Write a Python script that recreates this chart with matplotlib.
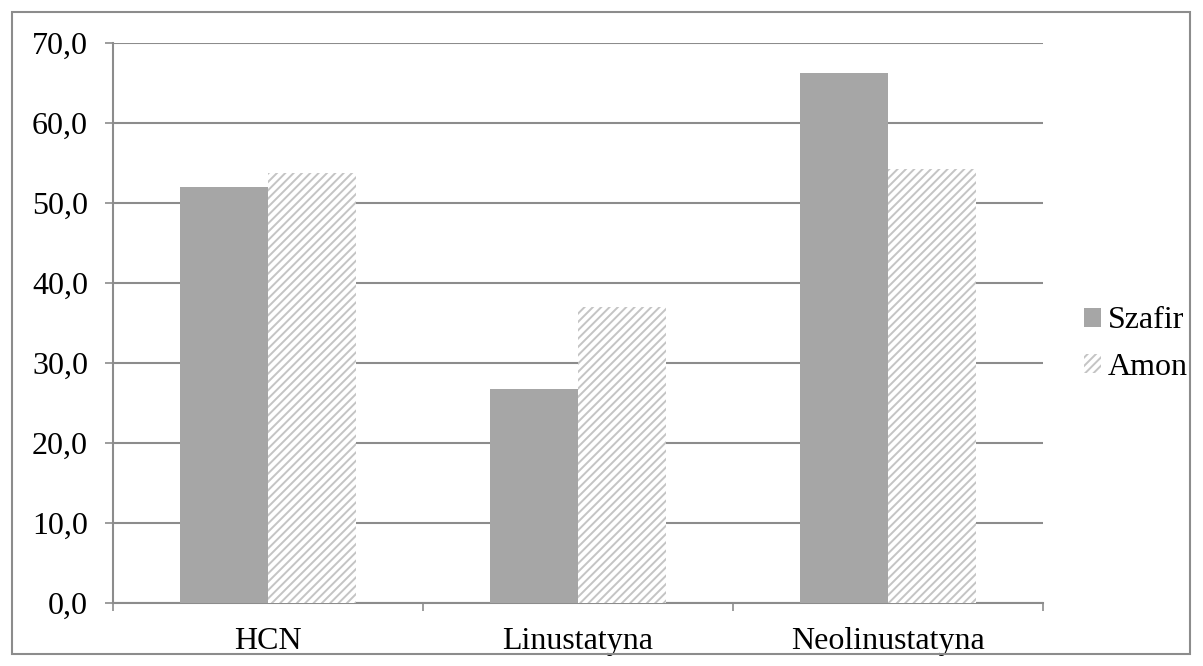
import numpy as np
import matplotlib.pyplot as plt
from matplotlib.patches import Rectangle

categories = ['HCN', 'Linustatyna', 'Neolinustatyna']
szafir = [52.0, 26.8, 66.3]
amon = [53.8, 37.0, 54.3]
y_ticks = [0, 10, 20, 30, 40, 50, 60, 70]

plt.rcParams['font.family'] = 'Liberation Serif'
plt.rcParams['hatch.linewidth'] = 1.4

grid_col = '#8c8c8c'
fs = 23

fig = plt.figure(figsize=(12.03, 6.66), dpi=100)
ax = fig.add_axes([113 / 1203, 63 / 666, 930 / 1203, 560 / 666])

x = np.arange(len(categories))
w = 0.285
ax.bar(x - w / 2, szafir, width=w, color='#a6a6a6', label='Szafir', zorder=3)
ax.bar(x + w / 2, amon, width=w, color='white', edgecolor='#c4c4c4',
       linewidth=0, hatch='////', label='Amon', zorder=3)

ax.set_xlim(-0.5, len(categories) - 0.5)
ax.set_ylim(0, 70)
ax.set_yticks(y_ticks)
ax.set_yticklabels([f'{v:.1f}'.replace('.', ',') for v in y_ticks], fontsize=fs)
ax.yaxis.grid(True, color=grid_col, linewidth=1.5, zorder=0)

# category labels centred, tick marks at the category boundaries
ax.set_xticks(x)
ax.set_xticklabels(categories, fontsize=fs)
ax.tick_params(axis='x', length=0, pad=17)
ax.set_xticks(np.arange(len(categories) + 1) - 0.5, minor=True)
ax.tick_params(axis='x', which='minor', length=6, width=1.2, color=grid_col)
ax.tick_params(axis='y', length=6, width=1.2, color=grid_col, pad=12)

for side in ['top', 'right']:
    ax.spines[side].set_visible(False)
for side in ['left', 'bottom']:
    ax.spines[side].set_color(grid_col)
    ax.spines[side].set_linewidth(1.5)

leg = ax.legend(loc='center left', bbox_to_anchor=(1.013, 0.462), frameon=False,
                fontsize=fs, handlelength=0.55, handleheight=0.55,
                handletextpad=0.2, labelspacing=0.55)

# outer frame around the whole chart
fig.patches.append(Rectangle((12 / 1203, 12 / 666), 1178 / 1203, 642 / 666,
                             transform=fig.transFigure, fill=False,
                             edgecolor='#8c8c8c', linewidth=1.5))

fig.savefig('out.png', dpi=100)
